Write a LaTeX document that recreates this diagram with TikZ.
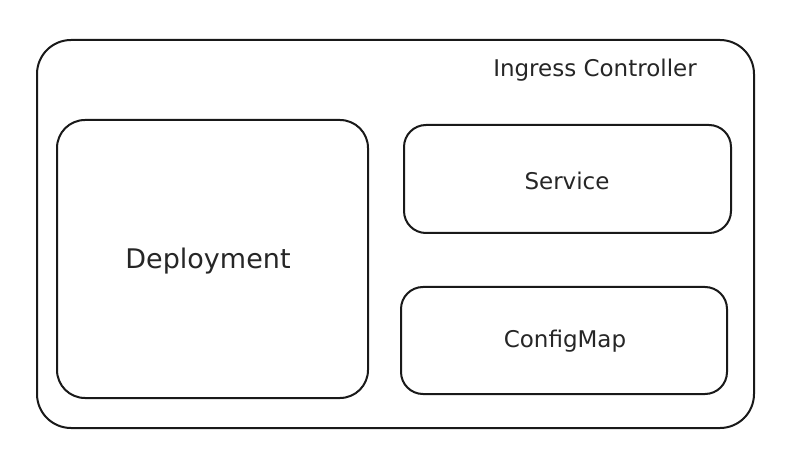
\documentclass[tikz,border=0pt]{standalone}
\usepackage{fontspec}
\setmainfont{DejaVu Sans}
\begin{document}
\begin{tikzpicture}[x=1pt,y=-1pt,
  box/.style={draw=black!90, line width=2pt, rounded corners=28pt, line join=round},
  lbl/.style={font=\fontsize{#1}{#1}\selectfont, text=black!85, inner sep=0pt}]
\useasboundingbox (0,0) rectangle (793,457);
\fill[white] (0,0) rectangle (793,457);
\draw[box, rounded corners=34pt] (37,40) rectangle (754,428);
\draw[box] (57,120) rectangle (368,398);
\draw[box, rounded corners=22pt] (404,125) rectangle (731,233);
\draw[box, rounded corners=22pt] (401,287) rectangle (727,394);
\node[lbl=23] (ic) at (595,70) {Ingress Controller};
\node[lbl=27] (dep) at (208,261) {Deployment};
\node[lbl=23] (svc) at (567,181) {Service};
\node[lbl=23] (cm) at (565,341) {ConfigMap};
\end{tikzpicture}
\end{document}
